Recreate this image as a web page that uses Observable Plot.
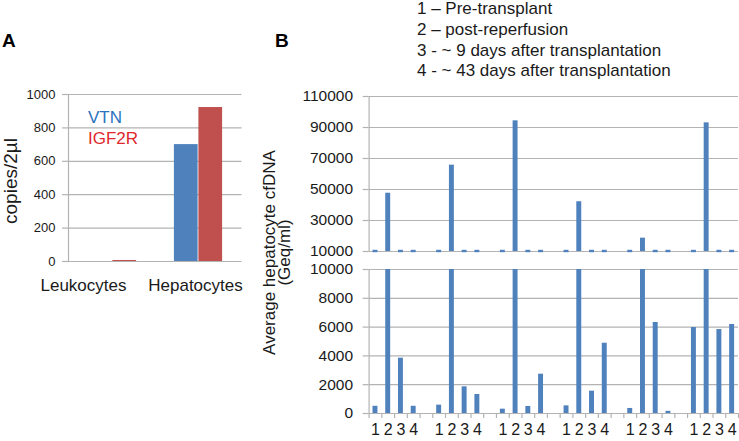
<!DOCTYPE html>
<html><head><meta charset="utf-8">
<script src="https://cdn.jsdelivr.net/npm/d3@7"></script>
<script src="https://cdn.jsdelivr.net/npm/@observablehq/plot@0.6"></script>
<style>
body{margin:0;background:#fff;}
#wrap{position:relative;width:739px;height:441px;overflow:hidden;font-family:"Liberation Sans",Arial,sans-serif;}
#wrap > svg{position:absolute;}
</style></head><body><div id="wrap"></div>
<script>
// ---- Panel A data ----
const cellTypes = ["Leukocytes", "Hepatocytes"];
const vtn = [0, 700];
const igf2r = [6, 922];
const ticksA = [0, 200, 400, 600, 800, 1000];
const seriesA = ["VTN", "IGF2R"];

// ---- Panel B data ----
const patients = [1, 2, 3, 4, 5, 6];
const timepoints = ["1", "2", "3", "4"];
const preTransplant   = [500, 580, 300, 530, 350, 5970];
const postReperfusion = [47600, 65700, 94300, 42100, 18600, 93000];
const day9            = [3840, 1850, 490, 1550, 6320, 5830];
const day43           = [500, 1320, 2730, 4880, 150, 6180];
const ticksBTop = [10000, 30000, 50000, 70000, 90000, 110000];
const ticksBBottom = [0, 2000, 4000, 6000, 8000, 10000];
const legendB = ["1 \u2013 Pre-transplant", "2 \u2013 post-reperfusion",
  "3 - ~ 9 days after transplantation", "4 - ~ 43 days after transplantation"];

const FONT = '"Liberation Sans", Arial, sans-serif';
const GRID = "#b3b3b3";
const BLUE = "#4f81bd", RED = "#c0504d";
const wrap = document.getElementById("wrap");
function place(svg, left, top) { svg.style.left = left + "px"; svg.style.top = top + "px"; wrap.appendChild(svg); }
const fmt = d3.format("d");

// ---- Panel A ----
const rowsA = [];
cellTypes.forEach((c, i) => { rowsA.push({c, s: "VTN", v: vtn[i]}); rowsA.push({c, s: "IGF2R", v: igf2r[i]}); });
const chartA = Plot.plot({
  width: 250, height: 300,
  marginLeft: 68, marginRight: 8.5, marginTop: 94, marginBottom: 39,
  style: {fontFamily: FONT, fontSize: "13px", color: "#1a1a1a", background: "transparent"},
  x: {type: "band", domain: cellTypes, padding: 0, axis: null},
  y: {domain: [0, 1000], axis: null},
  marks: [
    Plot.gridY(ticksA, {stroke: GRID, strokeOpacity: 1, strokeWidth: 1.2}),
    Plot.axisY(ticksA, {tickSize: 6, tickPadding: 7, tickFormat: fmt, label: null, stroke: GRID, strokeWidth: 1.2, fill: "#1a1a1a"}),
    Plot.frame({anchor: "left", stroke: GRID, strokeWidth: 1.2}),
    Plot.barY(rowsA.filter(d => d.s === "VTN"), {x: "c", y: "v", fill: BLUE, insetLeft: 18.9, insetRight: 43.4}),
    Plot.barY(rowsA.filter(d => d.s === "IGF2R"), {x: "c", y: "v", fill: RED, insetLeft: 43.4, insetRight: 18.9}),
    Plot.text([cellTypes[0]], {x: d => d, text: d => d, frameAnchor: "bottom", dy: 29, dx: -29, fontSize: 17, fill: "#1a1a1a"}),
    Plot.text([cellTypes[1]], {x: d => d, text: d => d, frameAnchor: "bottom", dy: 29, dx: -3, fontSize: 17, fill: "#1a1a1a"})
  ]
});
place(chartA, 0, 0);

// ---- Panel B ----
const seriesB = [preTransplant, postReperfusion, day9, day43];
const rowsB = [];
patients.forEach((p, pi) => seriesB.forEach((s, ti) => rowsB.push({slot: pi * 5 + ti, t: timepoints[ti], v: s[pi]})));
const nSlots = patients.length * 5 - 1;
const ins = 3.9;

const chartBTop = Plot.plot({
  width: 449, height: 180,
  marginLeft: 78.6, marginRight: 1, marginTop: 16, marginBottom: 9,
  style: {fontFamily: FONT, fontSize: "15.5px", color: "#1a1a1a", background: "transparent"},
  x: {domain: [0, nSlots], axis: null},
  y: {domain: [10000, 110000], axis: null},
  marks: [
    Plot.gridY(ticksBTop, {stroke: GRID, strokeOpacity: 1, strokeWidth: 1.2}),
    Plot.axisY(ticksBTop, {tickSize: 6, tickPadding: 10, tickFormat: fmt, label: null, stroke: GRID, strokeWidth: 1.2, fill: "#1a1a1a"}),
    Plot.frame({anchor: "left", stroke: GRID, strokeWidth: 1.2}),
    Plot.rectY(rowsB.filter(d => d.v > 10000), {x1: d => d.slot, x2: d => d.slot + 1, y1: 10000, y2: "v", fill: BLUE, insetLeft: ins, insetRight: ins}),
    Plot.rectY(rowsB.filter(d => d.v <= 10000), {x1: d => d.slot, x2: d => d.slot + 1, y1: 10000, y2: 10000, fill: BLUE, insetLeft: ins, insetRight: ins, insetTop: -1.2, insetBottom: -1.2})
  ]
});
place(chartBTop, 290, 80);

const chartBBottom = Plot.plot({
  width: 449, height: 186,
  marginLeft: 78.6, marginRight: 1, marginTop: 14, marginBottom: 28,
  style: {fontFamily: FONT, fontSize: "15.5px", color: "#1a1a1a", background: "transparent"},
  x: {domain: [0, nSlots], axis: null},
  y: {domain: [0, 10000], axis: null},
  marks: [
    Plot.gridY(ticksBBottom, {stroke: GRID, strokeOpacity: 1, strokeWidth: 1.2}),
    Plot.axisY(ticksBBottom, {tickSize: 6, tickPadding: 10, tickFormat: fmt, label: null, stroke: GRID, strokeWidth: 1.2, fill: "#1a1a1a"}),
    Plot.frame({anchor: "left", stroke: GRID, strokeWidth: 1.2}),
    Plot.axisX(d3.range(nSlots + 1), {tickSize: 5, tickFormat: () => "", label: null, stroke: GRID, strokeWidth: 1.2}),
    Plot.rectY(rowsB, {x1: d => d.slot, x2: d => d.slot + 1, y1: 0, y2: "v", fill: BLUE, insetLeft: ins, insetRight: ins, clip: true}),
    Plot.text(rowsB, {x: d => d.slot + 0.5, text: "t", frameAnchor: "bottom", dy: 21, fontSize: 16, fill: "#1a1a1a"})
  ]
});
place(chartBBottom, 290, 255);

// ---- Annotation overlay ----
const ov = d3.select(wrap).append("svg").attr("width", 739).attr("height", 441)
  .style("left", "0px").style("top", "0px").style("pointer-events", "none")
  .style("font-family", FONT);
ov.append("text").attr("x", 2).attr("y", 47).attr("font-size", 19).attr("font-weight", "bold").attr("fill", "#000").text("A");
ov.append("text").attr("x", 275).attr("y", 47).attr("font-size", 19).attr("font-weight", "bold").attr("fill", "#000").text("B");
ov.append("text").attr("x", 88).attr("y", 123).attr("font-size", 17).attr("fill", "#2a72bd").text(seriesA[0]);
ov.append("text").attr("x", 88).attr("y", 144).attr("font-size", 17).attr("fill", "#e0282c").text(seriesA[1]);
ov.append("text").attr("transform", "translate(17,181) rotate(-90)").attr("text-anchor", "middle")
  .attr("font-size", 19).attr("fill", "#1a1a1a").text("copies/2\u00b5l");
legendB.forEach((s, i) => ov.append("text").attr("x", 417).attr("y", 14 + i * 20.8).attr("font-size", 17).attr("fill", "#1a1a1a").text(s));
ov.append("text").attr("transform", "translate(274.5,252.5) rotate(-90)").attr("text-anchor", "middle")
  .attr("font-size", 17).attr("fill", "#1a1a1a").text("Average hepatocyte cfDNA");
ov.append("text").attr("transform", "translate(290,252.5) rotate(-90)").attr("text-anchor", "middle")
  .attr("font-size", 17).attr("fill", "#1a1a1a").text("(Geq/ml)");
</script></body></html>
